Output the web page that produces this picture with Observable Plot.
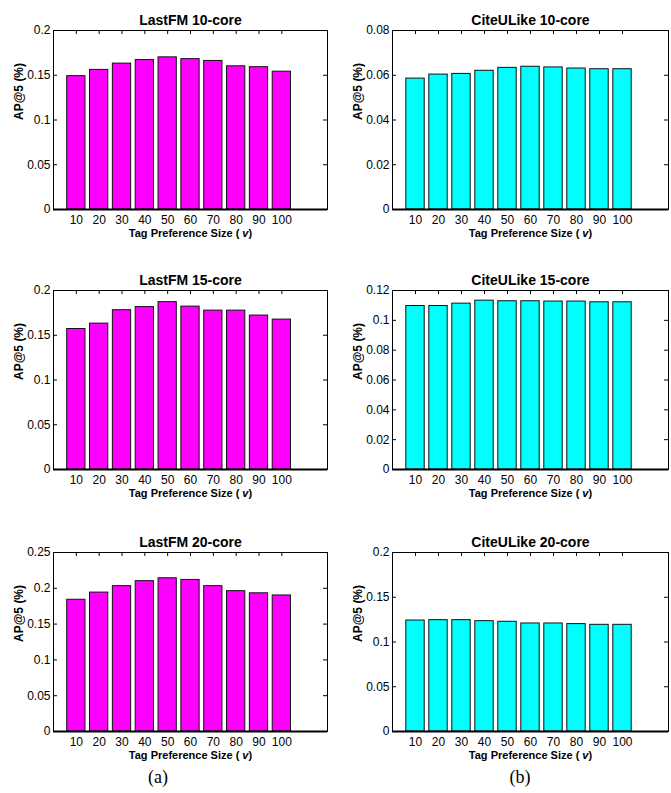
<!DOCTYPE html>
<html><head><meta charset="utf-8">
<script src="https://cdn.jsdelivr.net/npm/d3@7"></script>
<script src="https://cdn.jsdelivr.net/npm/@observablehq/plot@0.6"></script>
<style>
body{margin:0;background:#fff;}
#root{position:relative;width:671px;height:793px;overflow:hidden;background:#fff;}
.panel{position:absolute;}
.sub{position:absolute;font-family:"Liberation Serif","Times New Roman",serif;font-size:18px;transform:translateX(-50%);white-space:nowrap;}
</style></head><body><div id="root"></div>
<script>
// ---- data ----
const categories = ["10","20","30","40","50","60","70","80","90","100"];
const xLabelMain = "Tag Preference Size ( ";
const xLabelVar = "v";
const xLabelEnd = ")";
const xLabel = xLabelMain + xLabelVar + xLabelEnd;
const yLabel = "AP@5 (%)";

const lastfm10    = [0.149, 0.156, 0.163, 0.167, 0.170, 0.168, 0.166, 0.160, 0.159, 0.154];
const citeulike10 = [0.0585, 0.0603, 0.0606, 0.0620, 0.0633, 0.0638, 0.0635, 0.0630, 0.0627, 0.0627];
const lastfm15    = [0.157, 0.163, 0.178, 0.1815, 0.187, 0.182, 0.1775, 0.1775, 0.172, 0.1675];
const citeulike15 = [0.1096, 0.1096, 0.1112, 0.1132, 0.1128, 0.1128, 0.1126, 0.1126, 0.1121, 0.1121];
const lastfm20    = [0.184, 0.194, 0.203, 0.210, 0.214, 0.2117, 0.203, 0.196, 0.193, 0.190];
const citeulike20 = [0.124, 0.1244, 0.1244, 0.1233, 0.1226, 0.1207, 0.1207, 0.120, 0.1192, 0.1192];

const ticksLastfm10 = [0, 0.05, 0.1, 0.15, 0.2];
const ticksCite10   = [0, 0.02, 0.04, 0.06, 0.08];
const ticksLastfm15 = [0, 0.05, 0.1, 0.15, 0.2];
const ticksCite15   = [0, 0.02, 0.04, 0.06, 0.08, 0.1, 0.12];
const ticksLastfm20 = [0, 0.05, 0.1, 0.15, 0.2, 0.25];
const ticksCite20   = [0, 0.05, 0.1, 0.15, 0.2];

const titles = ["LastFM 10-core","CiteULike 10-core","LastFM 15-core","CiteULike 15-core","LastFM 20-core","CiteULike 20-core"];
const subLabels = ["(a)","(b)"];

// ---- layout ----
const FONT = '"Liberation Sans", Arimo, Arial, Helvetica, sans-serif';
const MAGENTA = "#ff00ff", CYAN = "#00ffff";
const colLeft = [{left: 0, width: 335, ml: 53, mr: 8, color: MAGENTA}, {left: 335, width: 336, ml: 57, mr: 3, color: CYAN}];
const rowTop = [0, 260, 522];

const panels = [
  {row: 0, col: 0, values: lastfm10,    ticks: ticksLastfm10, title: titles[0]},
  {row: 0, col: 1, values: citeulike10, ticks: ticksCite10,   title: titles[1]},
  {row: 1, col: 0, values: lastfm15,    ticks: ticksLastfm15, title: titles[2]},
  {row: 1, col: 1, values: citeulike15, ticks: ticksCite15,   title: titles[3]},
  {row: 2, col: 0, values: lastfm20,    ticks: ticksLastfm20, title: titles[4]},
  {row: 2, col: 1, values: citeulike20, ticks: ticksCite20,   title: titles[5]}
];

const positions = categories.map((_, i) => i + 1);
const fmt = d => d === 0 ? "0" : String(+d.toFixed(3));

function makePanel(p) {
  const c = colLeft[p.col];
  const W = c.width, H = 250, mt = 30, mb = 41;
  const pw = W - c.ml - c.mr, ph = H - mt - mb;
  const data = p.values.map((v, i) => ({pos: positions[i], v}));
  const svg = Plot.plot({
    width: W, height: H,
    marginLeft: c.ml, marginRight: c.mr, marginTop: mt, marginBottom: mb,
    style: {fontFamily: FONT, fontSize: "12px", color: "#000", background: "transparent", overflow: "visible"},
    x: {type: "linear", domain: [0, categories.length + 2], axis: null},
    y: {domain: [0, d3.max(p.ticks)], axis: null},
    marks: [
      Plot.ruleY(p.ticks, {stroke: "#000", insetRight: pw - 4}),
      Plot.ruleY(p.ticks, {stroke: "#000", insetLeft: pw - 4}),
      Plot.ruleX(positions, {stroke: "#000", insetBottom: ph - 4}),
      Plot.rectY(data, {x1: d => d.pos - 0.4, x2: d => d.pos + 0.4, y: "v", fill: c.color, stroke: "#111", strokeWidth: 1}),
      Plot.frame({stroke: "#000", strokeWidth: 1}),
      Plot.ruleY([0], {stroke: "#000", strokeWidth: 2}),
      Plot.axisY({ticks: p.ticks, tickSize: 0, tickPadding: 3, tickFormat: fmt, label: null}),
      Plot.axisX({ticks: positions, tickSize: 0, tickPadding: 6, tickFormat: d => categories[d - 1], label: null}),
      Plot.text([p.title], {text: d => d, frameAnchor: "top", dy: -15, fontWeight: "bold", fontSize: 14}),
      Plot.text([xLabel], {text: d => d, frameAnchor: "bottom", dy: 27, fontWeight: "bold", fontSize: 11}),
      Plot.text([yLabel], {text: d => d, frameAnchor: "left", dx: -34, rotate: -90, fontWeight: "bold", fontSize: 12})
    ]
  });
  // italicise the variable "v" in the x label
  svg.querySelectorAll("text").forEach(t => {
    if (t.textContent === xLabel) {
      while (t.firstChild) t.removeChild(t.firstChild);
      const ns = "http://www.w3.org/2000/svg";
      const a = document.createElementNS(ns, "tspan"); a.textContent = xLabelMain;
      const b = document.createElementNS(ns, "tspan"); b.textContent = xLabelVar; b.setAttribute("font-style", "italic");
      const e = document.createElementNS(ns, "tspan"); e.textContent = xLabelEnd;
      t.appendChild(a); t.appendChild(b); t.appendChild(e);
    }
  });
  return svg;
}

const root = document.getElementById("root");
for (const p of panels) {
  const div = document.createElement("div");
  div.className = "panel";
  div.style.left = colLeft[p.col].left + "px";
  div.style.top = rowTop[p.row] + "px";
  div.appendChild(makePanel(p));
  root.appendChild(div);
}
const subX = [158, 520];
subLabels.forEach((t, i) => {
  const s = document.createElement("div");
  s.className = "sub";
  s.textContent = t;
  s.style.left = subX[i] + "px";
  s.style.top = "767px";
  root.appendChild(s);
});
</script></body></html>
